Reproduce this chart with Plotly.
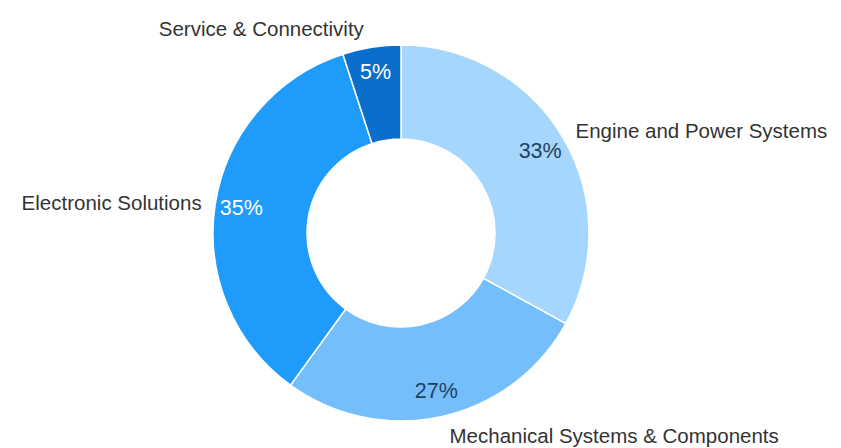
import plotly.graph_objects as go

labels = ["Engine and Power Systems", "Mechanical Systems & Components",
          "Electronic Solutions", "Service & Connectivity"]
shares = [33, 27, 35, 5]
colors = ["#a5d6fe", "#74bffb", "#1f9bfc", "#0a6fcc"]
pct_colors = ["#23405e", "#23405e", "white", "white"]

fig = go.Figure()
clear = dict(colors=["rgba(0,0,0,0)"] * 4, line=dict(width=0))
ring_dom = dict(x=[0, 1], y=[8 / 392, 1 - 8 / 392])

# the coloured ring
fig.add_trace(go.Pie(
    labels=labels, values=shares, hole=0.5, sort=False, direction="clockwise",
    rotation=0, marker=dict(colors=colors, line=dict(color="white", width=1.5)),
    textinfo="none", automargin=False, domain=ring_dom,
    showlegend=False, hoverinfo="label+percent"))

# transparent thinner ring so the percentages sit near the outer edge
fig.add_trace(go.Pie(
    labels=labels, values=shares, hole=0.72, sort=False, direction="clockwise",
    rotation=0, marker=clear, domain=ring_dom,
    texttemplate="%{value}%", textposition="inside",
    insidetextorientation="horizontal", automargin=False,
    insidetextfont=dict(family="Liberation Sans, Arial", size=21.5, color=pct_colors),
    showlegend=False, hoverinfo="skip"))

# slightly larger transparent copy for the outside labels
fig.add_trace(go.Pie(
    labels=labels, values=shares, hole=0.5, sort=False, direction="clockwise",
    rotation=0, marker=clear,
    textinfo="label", textposition="outside", automargin=False,
    outsidetextfont=dict(family="Liberation Sans, Arial", size=20.5, color="#333333"),
    showlegend=False, hoverinfo="skip"))

fig.update_layout(
    width=841, height=448,
    margin=dict(l=0, r=55, t=29, b=27),
    paper_bgcolor="white", plot_bgcolor="white",
)

fig.write_html("out.html")
